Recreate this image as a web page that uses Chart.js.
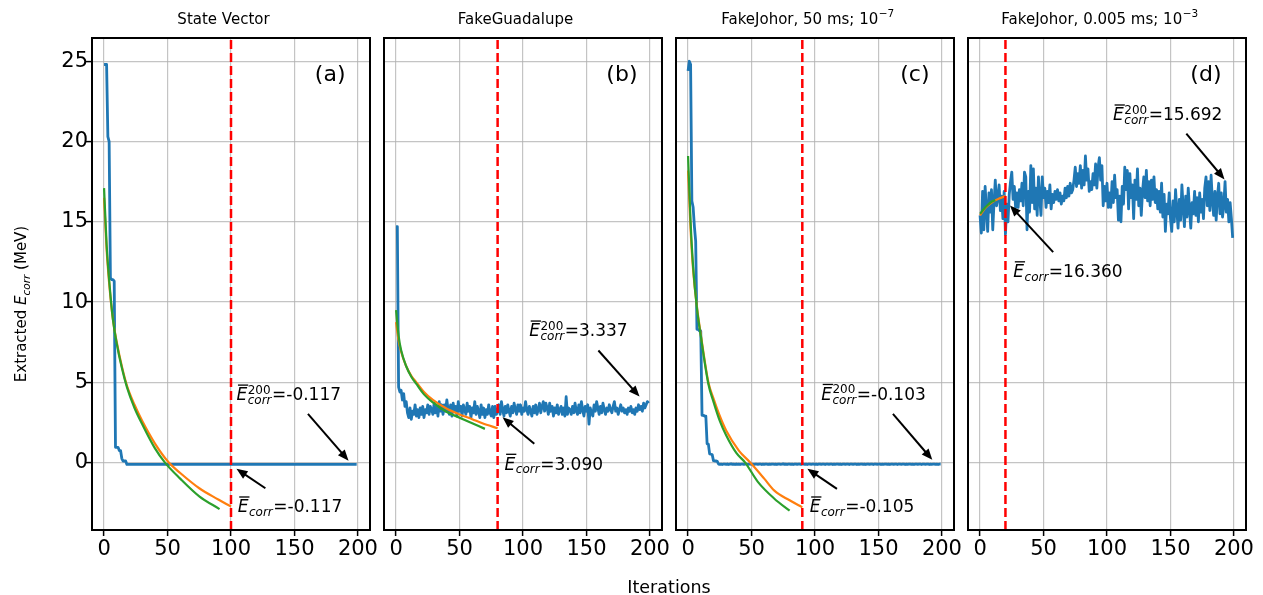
<!DOCTYPE html>
<html>
<head>
<meta charset="utf-8">
<script src="https://cdn.jsdelivr.net/npm/chart.js@4.4.1/dist/chart.umd.min.js"></script>
<style>
    html, body { margin: 0; padding: 0; background: #fff; }
    #wrap { position: relative; width: 1263px; height: 595px; }
    #wrap canvas { position: absolute; left: 0; top: 0; }
</style>
</head>
<body>
<div id="wrap">
    <canvas id="panel-a" width="1263" height="595"></canvas>
    <canvas id="panel-b" width="1263" height="595"></canvas>
    <canvas id="panel-c" width="1263" height="595"></canvas>
    <canvas id="panel-d" width="1263" height="595"></canvas>
</div>
<script>
// ---- data ----
const xTicks = [0, 50, 100, 150, 200];
const yTicks = [0, 5, 10, 15, 20, 25];
const panelTitles = ['State Vector', 'FakeGuadalupe', 'FakeJohor, 50 ms; 10', 'FakeJohor, 0.005 ms; 10'];
const titleExponents = ['', '', '\u22127', '\u22123'];
const panelLetters = ['(a)', '(b)', '(c)', '(d)'];
const cutIter = [100, 80, 90, 20];
const meanTail = ['-0.117', '3.337', '-0.103', '15.692'];
const meanCut = ['-0.117', '3.090', '-0.105', '16.360'];

const blueA = [
    24.8, 24.8, 24.8, 20.3, 20.0, 11.5, 11.4, 11.4, 11.3, 0.95,
    0.95, 0.95, 0.75, 0.75, 0.25, 0.1, 0.1, 0.1, -0.117, -0.117,
    -0.117, -0.117, -0.117, -0.117, -0.117, -0.117, -0.117, -0.117, -0.117, -0.117,
    -0.117, -0.117, -0.117, -0.117, -0.117, -0.117, -0.117, -0.117, -0.117, -0.117,
    -0.117, -0.117, -0.117, -0.117, -0.117, -0.117, -0.117, -0.117, -0.117, -0.117,
    -0.117, -0.117, -0.117, -0.117, -0.117, -0.117, -0.117, -0.117, -0.117, -0.117,
    -0.117, -0.117, -0.117, -0.117, -0.117, -0.117, -0.117, -0.117, -0.117, -0.117,
    -0.117, -0.117, -0.117, -0.117, -0.117, -0.117, -0.117, -0.117, -0.117, -0.117,
    -0.117, -0.117, -0.117, -0.117, -0.117, -0.117, -0.117, -0.117, -0.117, -0.117,
    -0.117, -0.117, -0.117, -0.117, -0.117, -0.117, -0.117, -0.117, -0.117, -0.117,
    -0.117, -0.117, -0.117, -0.117, -0.117, -0.117, -0.117, -0.117, -0.117, -0.117,
    -0.117, -0.117, -0.117, -0.117, -0.117, -0.117, -0.117, -0.117, -0.117, -0.117,
    -0.117, -0.117, -0.117, -0.117, -0.117, -0.117, -0.117, -0.117, -0.117, -0.117,
    -0.117, -0.117, -0.117, -0.117, -0.117, -0.117, -0.117, -0.117, -0.117, -0.117,
    -0.117, -0.117, -0.117, -0.117, -0.117, -0.117, -0.117, -0.117, -0.117, -0.117,
    -0.117, -0.117, -0.117, -0.117, -0.117, -0.117, -0.117, -0.117, -0.117, -0.117,
    -0.117, -0.117, -0.117, -0.117, -0.117, -0.117, -0.117, -0.117, -0.117, -0.117,
    -0.117, -0.117, -0.117, -0.117, -0.117, -0.117, -0.117, -0.117, -0.117, -0.117,
    -0.117, -0.117, -0.117, -0.117, -0.117, -0.117, -0.117, -0.117, -0.117, -0.117,
    -0.117, -0.117, -0.117, -0.117, -0.117, -0.117, -0.117, -0.117, -0.117, -0.117
];
const blueB = [
    14.7, 14.7, 4.7, 4.4, 4.5, 3.9, 4.3, 3.5, 3.8, 3.1,
    2.8, 3.4, 2.7, 3.2, 3.0, 3.6, 2.9, 3.3, 2.8, 3.4,
    3.0, 3.5, 2.8, 3.3, 3.1, 3.6, 3.0, 3.5, 3.3, 3.0,
    3.7, 3.1, 3.5, 2.9, 3.8, 3.2, 3.6, 3.0, 3.6, 3.2,
    3.9, 3.3, 3.0, 3.6, 2.9, 3.7, 3.2, 3.5, 2.9, 3.8,
    3.2, 3.5, 2.9, 3.6, 3.3, 3.0, 3.7, 3.2, 3.5, 2.8,
    3.4, 3.1, 3.8, 3.0, 3.5, 3.2, 2.8, 3.6, 3.0, 3.4,
    2.8, 3.3, 3.0, 3.6, 3.1, 2.9, 3.5, 2.8, 3.5, 3.0,
    3.2, 3.6, 3.0, 3.8, 3.3, 2.9, 3.5, 3.1, 3.6, 3.2,
    2.9, 3.5, 3.1, 3.7, 3.3, 3.0, 3.6, 3.2, 3.6, 3.0,
    3.4, 3.2, 3.8, 3.3, 3.0, 3.5, 3.2, 2.9, 3.5, 3.1,
    3.6, 3.0, 3.3, 3.7, 3.1, 3.5, 3.8, 3.2, 3.7, 3.4,
    3.0, 3.7, 3.2, 3.5, 2.9, 3.4, 3.1, 3.6, 3.0, 3.3,
    3.5, 3.0, 3.4, 2.9, 4.1, 3.0, 3.4, 3.3, 3.0, 3.5,
    3.1, 3.7, 3.2, 3.0, 3.6, 3.1, 3.8, 3.3, 2.9, 3.5,
    3.2, 3.6, 2.4, 3.4, 3.1, 2.9, 3.6, 3.2, 3.8, 3.4,
    3.0, 3.5, 3.1, 3.7, 3.3, 3.0, 3.4, 3.2, 3.6, 3.3,
    3.1, 3.5, 3.8, 3.2, 3.4, 3.0, 3.3, 3.6, 3.2, 3.4,
    3.1, 3.3, 3.0, 3.4, 3.2, 3.5, 3.1, 3.3, 3.0, 3.4,
    3.2, 3.6, 3.3, 3.5, 3.2, 3.7, 3.4, 3.6, 3.8, 3.7
];
const blueC = [
    24.4, 25.0, 24.8, 16.3, 15.9, 14.7, 13.8, 8.3, 8.3, 8.2,
    8.2, 2.95, 2.95, 2.9, 2.9, 1.17, 1.15, 0.54, 0.52, 0.5,
    0.12, 0.1, 0.1, 0.08, -0.09, -0.11, -0.10, -0.12, -0.09, -0.10,
    -0.11, -0.09, -0.12, -0.10, -0.08, -0.11, -0.10, -0.12, -0.09, -0.11,
    -0.10, -0.12, -0.09, -0.10, -0.11, -0.08, -0.10, -0.12, -0.10, -0.09,
    -0.11, -0.10, -0.12, -0.09, -0.10, -0.11, -0.10, -0.09, -0.12, -0.10,
    -0.11, -0.09, -0.10, -0.12, -0.10, -0.11, -0.09, -0.10, -0.11, -0.10,
    -0.12, -0.09, -0.10, -0.11, -0.10, -0.08, -0.11, -0.10, -0.12, -0.10,
    -0.09, -0.11, -0.10, -0.12, -0.10, -0.09, -0.11, -0.10, -0.10, -0.12,
    -0.09, -0.10, -0.11, -0.10, -0.12, -0.09, -0.10, -0.11, -0.10, -0.09,
    -0.11, -0.10, -0.12, -0.10, -0.09, -0.11, -0.10, -0.10, -0.12, -0.09,
    -0.10, -0.11, -0.10, -0.09, -0.12, -0.10, -0.11, -0.10, -0.09, -0.11,
    -0.10, -0.12, -0.10, -0.09, -0.11, -0.10, -0.10, -0.12, -0.09, -0.10,
    -0.11, -0.10, -0.09, -0.12, -0.10, -0.11, -0.10, -0.09, -0.11, -0.10,
    -0.12, -0.10, -0.09, -0.11, -0.10, -0.10, -0.12, -0.09, -0.10, -0.11,
    -0.10, -0.09, -0.12, -0.10, -0.11, -0.10, -0.09, -0.11, -0.10, -0.12,
    -0.10, -0.09, -0.11, -0.10, -0.10, -0.12, -0.09, -0.10, -0.11, -0.10,
    -0.09, -0.12, -0.10, -0.11, -0.10, -0.09, -0.11, -0.10, -0.12, -0.10,
    -0.09, -0.11, -0.10, -0.10, -0.12, -0.09, -0.10, -0.11, -0.10, -0.09,
    -0.12, -0.10, -0.11, -0.10, -0.09, -0.11, -0.10, -0.12, -0.10, -0.10
];
const blueD = [
    15.4, 14.3, 16.9, 14.5, 17.2, 15.8, 14.4, 16.8, 15.6, 17.0,
    14.5, 16.2, 17.6, 16.0, 16.5, 17.3, 15.7, 16.6, 15.2, 16.9,
    14.2, 16.1, 15.0, 16.7, 17.5, 18.1, 16.4, 17.2, 15.9, 16.8,
    15.9, 17.0, 16.3, 17.4, 16.0, 18.1, 17.8, 14.5, 16.9, 15.6,
    18.5, 16.2, 18.3, 15.8, 17.1, 15.4, 17.8, 16.5, 15.4, 17.8,
    16.5, 17.1, 15.9, 16.9, 16.2, 17.3, 15.8, 16.7, 16.2, 16.9,
    16.4, 17.0, 16.3, 16.8, 16.1, 16.6, 16.3, 17.1, 16.5, 17.2,
    16.6, 17.4, 16.8, 17.0, 17.6, 18.4, 17.2, 18.0, 17.4, 18.5,
    17.1, 18.2, 17.3, 19.1, 17.6, 18.3, 16.9, 17.5, 17.0, 18.0,
    17.3, 18.6, 17.1, 18.4, 19.0, 17.6, 18.5, 16.0, 17.2, 16.3,
    17.4, 15.9, 16.8, 15.9, 17.5, 16.2, 17.9, 16.5, 17.0, 15.1,
    16.6, 15.0, 17.2, 16.1, 18.4, 17.0, 18.2, 15.8, 18.0, 16.5,
    17.3, 15.2, 17.6, 16.4, 18.3, 16.0, 17.1, 15.4, 16.9, 17.8,
    16.5, 18.2, 16.3, 17.5, 16.0, 17.6, 16.4, 17.8, 16.2, 17.0,
    15.8, 16.9, 15.6, 17.4, 15.3, 16.7, 14.4, 16.1, 15.5, 16.8,
    15.2, 14.4, 16.3, 15.0, 17.0, 15.7, 14.6, 16.4, 15.1, 17.3,
    15.9, 14.7, 16.6, 15.3, 17.1, 15.8, 14.6, 16.2, 15.5, 16.9,
    15.4, 16.5, 15.0, 16.8, 15.6, 16.4, 15.2, 17.1, 17.8, 16.0,
    17.5, 15.7, 17.9, 16.3, 15.4, 16.9, 15.1, 16.6, 17.4, 15.5,
    16.8, 15.3, 16.0, 17.5, 15.6, 16.4, 15.0, 16.2, 15.2, 14.0
];

// fitted curves (orange, green), read at a few iterations
const orangeIterA = [0, 2, 4, 7, 10, 14, 18, 24, 30, 40, 51, 60, 75, 90, 100];
const orangeA = [16.5, 13.3, 11.2, 8.9, 7.5, 6.0, 4.8, 3.6, 2.6, 1.2, 0.0, -0.65, -1.6, -2.3, -2.74];
const greenIterA = [0, 2, 4, 7, 10, 14, 18, 24, 30, 40, 48, 60, 75, 91];
const greenA = [17.1, 13.6, 11.4, 8.9, 7.4, 5.9, 4.7, 3.4, 2.4, 0.9, 0.0, -1.0, -2.1, -2.9];

const orangeIterB = [0, 2, 4, 8, 12, 16, 22, 29, 40, 50, 60, 68, 80];
const orangeB = [8.75, 7.6, 6.9, 6.0, 5.4, 5.0, 4.4, 3.9, 3.35, 3.0, 2.7, 2.45, 2.14];
const greenIterB = [0, 2, 4, 8, 12, 16, 22, 29, 40, 50, 60, 70];
const greenB = [9.5, 7.9, 7.0, 6.0, 5.35, 4.9, 4.25, 3.75, 3.15, 2.8, 2.45, 2.1];

const orangeIterC = [0, 2, 4, 7, 10, 16, 20, 25, 30, 40, 49, 60, 68, 80, 90];
const orangeC = [18.2, 14.5, 12.0, 9.7, 8.0, 5.0, 4.0, 2.9, 2.0, 0.75, 0.0, -1.0, -1.75, -2.35, -2.79];
const greenIterC = [0, 2, 4, 7, 10, 16, 20, 25, 30, 38, 45, 55, 68, 80];
const greenC = [19.1, 15.0, 12.2, 9.6, 7.9, 4.9, 3.8, 2.6, 1.7, 0.6, 0.0, -1.2, -2.25, -3.0];

const orangeIterD = [0, 3, 6, 10, 15, 20];
const orangeD = [15.4, 15.75, 16.0, 16.25, 16.45, 16.6];
const greenIterD = [0, 3, 6, 9, 12];
const greenD = [15.5, 15.8, 16.05, 16.25, 16.35];

// ---- layout ----
const panelLeft = [92, 384, 676, 968];
const panelWidth = 278;
const plotTop = 38;
const plotBottom = 530;
const xMin = -9.5, xMax = 209.5;
const yMin = -4.2, yMax = 26.45;
const FONT = '"DejaVu Sans", sans-serif';

// annotation anchors in data units: text baseline-left, arrow tail -> head
const tailTextAt = [[104.3, 3.87], [104.9, 7.86], [104.9, 3.91], [104.8, 21.32]];
const tailArrow = [[160.6, 3.04, 192.6, 0.12], [159.4, 6.98, 191.8, 4.11], [161.4, 3.04, 192.4, 0.17], [162.5, 20.49, 192.6, 17.64]];
const cutTextAt = [[105.3, -3.10], [85.5, -0.44], [95.8, -3.10], [26.2, 11.55]];
const cutArrow = [[127.1, -1.60, 104.3, -0.39], [108.9, 1.17, 83.9, 2.82], [117.3, -1.64, 94.0, -0.39], [57.6, 13.11, 23.6, 16.02]];

function font(size, italic) {
    return (italic ? 'italic ' : '') + size + 'px ' + FONT;
}

function drawEbar(ctx, x, y, sup, rest) {
    ctx.font = font(17, true);
    ctx.fillText('E', x, y);
    let ew = ctx.measureText('E').width;
    ctx.fillRect(x + 1.5, y - 16, ew - 0.5, 1.3);
    let sx = x + ew + 0.5;
    ctx.font = font(12, true);
    let w = ctx.measureText('corr').width;
    ctx.fillText('corr', sx, y + (sup ? 4 : 3.5));
    if (sup) {
        ctx.font = font(12);
        ctx.fillText(sup, sx, y - 6.5);
        w = Math.max(w, ctx.measureText(sup).width);
    }
    ctx.font = font(17);
    ctx.fillText(rest, sx + w + 0.5, y);
}

function drawArrow(ctx, x1, y1, x2, y2) {
    let ang = Math.atan2(y2 - y1, x2 - x1);
    let hl = 11, hw = 4.5;
    let c = Math.cos(ang), s = Math.sin(ang);
    ctx.lineWidth = 2;
    ctx.beginPath();
    ctx.moveTo(x1, y1);
    ctx.lineTo(x2 - hl * 0.7 * c, y2 - hl * 0.7 * s);
    ctx.stroke();
    ctx.beginPath();
    ctx.moveTo(x2, y2);
    ctx.lineTo(x2 - hl * c + hw * s, y2 - hl * s - hw * c);
    ctx.lineTo(x2 - hl * c - hw * s, y2 - hl * s + hw * c);
    ctx.closePath();
    ctx.fill();
}

const decoPlugin = {
    id: 'deco',
    afterDatasetsDraw(chart, args, opts) {
        let i = opts.idx;
        let ctx = chart.ctx;
        let a = chart.chartArea;
        let sx = chart.scales.x, sy = chart.scales.y;
        let px = v => sx.getPixelForValue(v);
        let py = v => sy.getPixelForValue(v);

        ctx.save();
        ctx.strokeStyle = '#000';
        ctx.fillStyle = '#000';
        ctx.lineWidth = 2;
        ctx.strokeRect(a.left, a.top, a.right - a.left, a.bottom - a.top);

        // panel title
        ctx.textBaseline = 'alphabetic';
        ctx.textAlign = 'left';
        ctx.font = font(15);
        let tw = ctx.measureText(panelTitles[i]).width;
        ctx.font = font(10.5);
        let ew = titleExponents[i] ? ctx.measureText(titleExponents[i]).width : 0;
        let tx = (a.left + a.right) / 2 - 7.5 - (tw + ew) / 2;
        ctx.font = font(15);
        ctx.fillText(panelTitles[i], tx, 23.5);
        if (ew) {
            ctx.font = font(10.5);
            ctx.fillText(titleExponents[i], tx + tw + 0.5, 17);
        }

        // panel letter
        ctx.font = font(22);
        ctx.textAlign = 'right';
        ctx.textBaseline = 'middle';
        ctx.fillText(panelLetters[i], a.right - 24.5, 75);

        // annotations
        ctx.textAlign = 'left';
        ctx.textBaseline = 'alphabetic';
        drawEbar(ctx, px(tailTextAt[i][0]), py(tailTextAt[i][1]), '200', '=' + meanTail[i]);
        drawEbar(ctx, px(cutTextAt[i][0]), py(cutTextAt[i][1]), null, '=' + meanCut[i]);
        let t = tailArrow[i], k = cutArrow[i];
        drawArrow(ctx, px(t[0]), py(t[1]), px(t[2]), py(t[3]));
        drawArrow(ctx, px(k[0]), py(k[1]), px(k[2]), py(k[3]));

        if (i === 0) {
            // shared axis labels
            ctx.font = font(17.5);
            ctx.textAlign = 'center';
            ctx.fillText('Iterations', 669, 593);

            ctx.translate(26, 304);
            ctx.rotate(-Math.PI / 2);
            ctx.textAlign = 'left';
            ctx.font = font(15);
            let w1 = ctx.measureText('Extracted ').width;
            let w3 = ctx.measureText(' (MeV)').width;
            ctx.font = font(15, true);
            let w2 = ctx.measureText('E').width;
            ctx.font = font(10.5, true);
            let w4 = ctx.measureText('corr').width;
            let x0 = -(w1 + w2 + w4 + w3) / 2;
            ctx.font = font(15);
            ctx.fillText('Extracted ', x0, 0);
            ctx.font = font(15, true);
            ctx.fillText('E', x0 + w1, 0);
            ctx.font = font(10.5, true);
            ctx.fillText('corr', x0 + w1 + w2, 3.5);
            ctx.font = font(15);
            ctx.fillText(' (MeV)', x0 + w1 + w2 + w4, 0);
        }
        ctx.restore();
    }
};

function toPoints(iters, values) {
    return iters.map((x, n) => ({x: x, y: values[n]}));
}

function makePanel(i, canvasId, blue, oIter, orange, gIter, green) {
    let L = panelLeft[i];
    let R = L + panelWidth;
    let yW = i === 0 ? L : 10;
    let gridColor = 'rgba(176, 176, 176, 0.75)';

    new Chart(document.getElementById(canvasId), {
        type: 'line',
        data: {
            datasets: [
                {
                    data: [{x: cutIter[i], y: yMin}, {x: cutIter[i], y: yMax}],
                    borderColor: '#ff0000',
                    borderWidth: 2.5,
                    borderDash: [9, 4],
                    order: 0
                },
                {
                    data: toPoints(gIter, green),
                    borderColor: '#2ca02c',
                    borderWidth: 2.2,
                    cubicInterpolationMode: 'monotone',
                    order: 1
                },
                {
                    data: toPoints(oIter, orange),
                    borderColor: '#ff7f0e',
                    borderWidth: 2.2,
                    cubicInterpolationMode: 'monotone',
                    order: 2
                },
                {
                    data: blue.map((v, n) => ({x: n, y: v})),
                    borderColor: '#1f77b4',
                    borderWidth: 2.8,
                    borderJoinStyle: 'round',
                    order: 3
                }
            ]
        },
        options: {
            responsive: false,
            animation: false,
            layout: {
                padding: {left: L - yW, right: 1263 - R, top: plotTop, bottom: 595 - plotBottom - 40}
            },
            elements: {
                point: {radius: 0},
                line: {tension: 0, fill: false}
            },
            plugins: {
                legend: {display: false},
                tooltip: {enabled: false},
                deco: {idx: i}
            },
            scales: {
                x: {
                    type: 'linear',
                    min: xMin,
                    max: xMax,
                    afterBuildTicks: s => { s.ticks = xTicks.map(v => ({value: v})); },
                    afterFit: s => { s.height = 40; },
                    grid: {color: gridColor, lineWidth: 1.2, tickColor: '#000', tickWidth: 1.5, tickLength: 6},
                    border: {display: false},
                    ticks: {
                        color: '#000',
                        font: {family: FONT, size: 21},
                        padding: 1,
                        maxRotation: 0,
                        autoSkip: false
                    }
                },
                y: {
                    type: 'linear',
                    min: yMin,
                    max: yMax,
                    afterBuildTicks: s => { s.ticks = yTicks.map(v => ({value: v})); },
                    afterFit: s => { s.width = yW; },
                    grid: {color: gridColor, lineWidth: 1.2, tickColor: '#000', tickWidth: 1.5, tickLength: 6, drawTicks: i === 0},
                    border: {display: false},
                    ticks: {
                        display: i === 0,
                        color: '#000',
                        font: {family: FONT, size: 21},
                        padding: -2
                    }
                }
            }
        },
        plugins: [decoPlugin]
    });
}

makePanel(0, 'panel-a', blueA, orangeIterA, orangeA, greenIterA, greenA);
makePanel(1, 'panel-b', blueB, orangeIterB, orangeB, greenIterB, greenB);
makePanel(2, 'panel-c', blueC, orangeIterC, orangeC, greenIterC, greenC);
makePanel(3, 'panel-d', blueD, orangeIterD, orangeD, greenIterD, greenD);
</script>
</body>
</html>
